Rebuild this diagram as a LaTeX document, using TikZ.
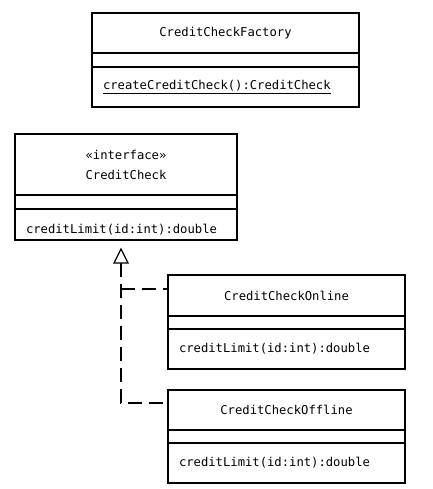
\documentclass[tikz,border=0pt]{standalone}
\usepackage{fontspec}
\setmonofont{DejaVu Sans Mono}
\usetikzlibrary{calc}
\begin{document}
\begin{tikzpicture}[x=1pt,y=-1pt,
  part/.style={draw, line width=1.2pt, inner xsep=0pt, inner ysep=0pt, outer sep=0pt, anchor=north west,
    font=\ttfamily\fontsize{12.2}{20}\selectfont},
  opspart/.style={part, align=left, inner xsep=11pt},
  dep/.style={line width=1.2pt, dash pattern=on 14pt off 7pt},
  gentri/.style={line width=1.2pt, fill=white, line join=miter}]
\useasboundingbox (0,0) rectangle (432,489);

% CreditCheckFactory
\node[part, minimum width=267pt, minimum height=40pt] (fname) at (92,13) {CreditCheckFactory};
\node[part, minimum width=267pt, minimum height=14pt] (fattr) at (fname.south west) {};
\node[opspart, text width=245pt, minimum height=40pt] (fops) at (fattr.south west) {\underline{createCreditCheck():CreditCheck}};

% CreditCheck
\node[part, minimum width=222pt, minimum height=61pt, align=center] (cname) at (15,134) {«interface»\\CreditCheck};
\node[part, minimum width=222pt, minimum height=14pt] (cattr) at (cname.south west) {};
\node[opspart, text width=200pt, text height=24pt, text depth=7pt, minimum height=31pt] (cops) at (cattr.south west) {creditLimit(id:int):double};

% CreditCheckOnline
\node[part, minimum width=237pt, minimum height=41pt] (oname) at (168,275) {CreditCheckOnline};
\node[part, minimum width=237pt, minimum height=13pt] (oattr) at (oname.south west) {};
\node[opspart, text width=215pt, minimum height=40pt] (oops) at (oattr.south west) {creditLimit(id:int):double};

% CreditCheckOffline
\node[part, minimum width=237pt, minimum height=40pt] (xname) at (168,390) {CreditCheckOffline};
\node[part, minimum width=237pt, minimum height=13pt] (xattr) at (xname.south west) {};
\node[opspart, text width=215pt, minimum height=40pt] (xops) at (xattr.south west) {creditLimit(id:int):double};

% realization connectors
\coordinate (tip) at (121,249);
\coordinate (base) at (121,263);
\coordinate (onhook) at (168,289);
\coordinate (offhook) at (168,403);
\coordinate (c1) at (base |- onhook);
\coordinate (c2) at (base |- offhook);
\draw[dep] (base) -- (c2) -- (offhook);
\draw[dep] (c1) -- (onhook);
\draw[gentri] (tip) -- ($(base)+(-7,0)$) -- ($(base)+(7,0)$) -- cycle;
\end{tikzpicture}
\end{document}
